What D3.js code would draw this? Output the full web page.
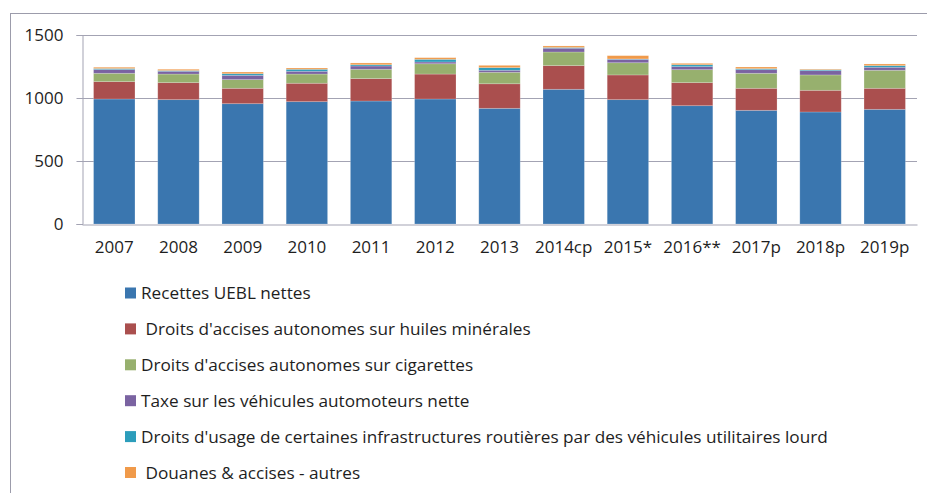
<!DOCTYPE html>
<meta charset="utf-8">
<head>
<style>
body { margin: 0; background: #fff; }
svg { display: block; }
.axis text { font-family: "Open Sans", sans-serif; font-size: 17px; fill: #1e1e1e; }
.legend text { font-family: "Open Sans", sans-serif; font-size: 17.2px; fill: #1e1e1e; }
</style>
<script src="https://d3js.org/d3.v7.min.js"></script>
</head>
<body>
<svg width="927" height="493"></svg>
<script>

var years = ["2007", "2008", "2009", "2010", "2011", "2012", "2013", "2014cp", "2015*", "2016**", "2017p", "2018p", "2019p"];

var seriesNames = [
  "Recettes UEBL nettes",
  " Droits d'accises autonomes sur huiles minérales",
  "Droits d'accises autonomes sur cigarettes",
  "Taxe sur les véhicules automoteurs nette",
  "Droits d'usage de certaines infrastructures routières par des véhicules utilitaires lourd",
  " Douanes & accises - autres"
];

var recettes  = [992, 987, 955, 971, 976, 992, 918, 1069, 987, 939, 902, 889, 910];
var huiles    = [138, 135, 122, 146, 178, 198, 195, 188, 196, 183, 175, 172, 167];
var cigarettes = [66, 68, 69, 73, 74, 82, 91, 108, 97, 103, 119, 122, 143];
var vehicules = [30, 22, 34, 22, 26, 14, 16, 30, 27, 24, 29, 34, 24];
var routes    = [8, 6, 13, 16, 10, 21, 21, 6, 3, 15, 8, 8, 13];
var autres    = [10, 10, 13, 10, 14, 13, 18, 12, 26, 11, 13, 5, 13];

var yTicks = [0, 500, 1000, 1500];

var colors = ["#3a76af", "#aa4f4e", "#97b06e", "#7a63a1", "#2c9dbb", "#f09a4a"];

var svg = d3.select("svg");

// outer frame (runs off the right and bottom of the picture)
svg.append("rect")
    .attr("x", 10.5).attr("y", 13.5)
    .attr("width", 940).attr("height", 500)
    .attr("fill", "none")
    .attr("stroke", "#9c9cab");

var margin = {left: 82, right: 917, top: 35, bottom: 224};

var rows = years.map(function(y, i) {
  return {year: y, s0: recettes[i], s1: huiles[i], s2: cigarettes[i], s3: vehicules[i], s4: routes[i], s5: autres[i]};
});
var keys = ["s0", "s1", "s2", "s3", "s4", "s5"];
var stacked = d3.stack().keys(keys)(rows);

var x = d3.scaleBand()
    .domain(years)
    .range([margin.left, margin.right])
    .paddingInner(0.355)
    .paddingOuter(0.18);

var y = d3.scaleLinear()
    .domain([0, 1500])
    .range([margin.bottom, margin.top]);

// gridlines
svg.append("g")
  .selectAll("line")
  .data(yTicks.slice(1))
  .enter().append("line")
    .attr("x1", margin.left).attr("x2", margin.right)
    .attr("y1", function(d) { return Math.round(y(d)) + 0.5; })
    .attr("y2", function(d) { return Math.round(y(d)) + 0.5; })
    .attr("stroke", "#a3a3b3");

// bars
svg.append("g")
  .selectAll("g")
  .data(stacked)
  .enter().append("g")
    .attr("fill", function(d, i) { return colors[i]; })
  .selectAll("rect")
  .data(function(d) { return d; })
  .enter().append("rect")
    .attr("x", function(d) { return x(d.data.year); })
    .attr("width", x.bandwidth())
    .attr("y", function(d) { return y(d[1]); })
    .attr("height", function(d) { return y(d[0]) - y(d[1]); })
    .attr("stroke", "#ffffff")
    .attr("stroke-opacity", 0.25)
    .attr("stroke-width", 0.8);

// y axis
var yAxis = svg.append("g")
    .attr("class", "axis")
    .attr("transform", "translate(" + (margin.left + 0.5) + ",0)")
    .call(d3.axisLeft(y).tickValues(yTicks).tickSize(6).tickPadding(13).tickFormat(d3.format("d")));
yAxis.select(".domain").attr("stroke", "#a3a3b3");
yAxis.selectAll(".tick line").attr("stroke", "#a3a3b3");

// x axis
var xAxis = svg.append("g")
    .attr("class", "axis")
    .attr("transform", "translate(0," + (margin.bottom + 0.5) + ")")
    .call(d3.axisBottom(x).tickSize(0).tickPadding(16));
xAxis.select(".domain").attr("stroke", "#a3a3b3");

// legend
var legend = svg.append("g")
    .attr("class", "legend")
  .selectAll("g")
  .data(seriesNames)
  .enter().append("g")
    .attr("transform", function(d, i) { return "translate(125," + (293 + i * 35.9) + ")"; });

legend.append("rect")
    .attr("x", 0).attr("y", -5.5)
    .attr("width", 11).attr("height", 11)
    .attr("fill", function(d, i) { return colors[i]; });

legend.append("text")
    .attr("x", 16)
    .attr("dy", "0.35em")
    .attr("xml:space", "preserve")
    .text(function(d) { return d; });

</script>
</body>
